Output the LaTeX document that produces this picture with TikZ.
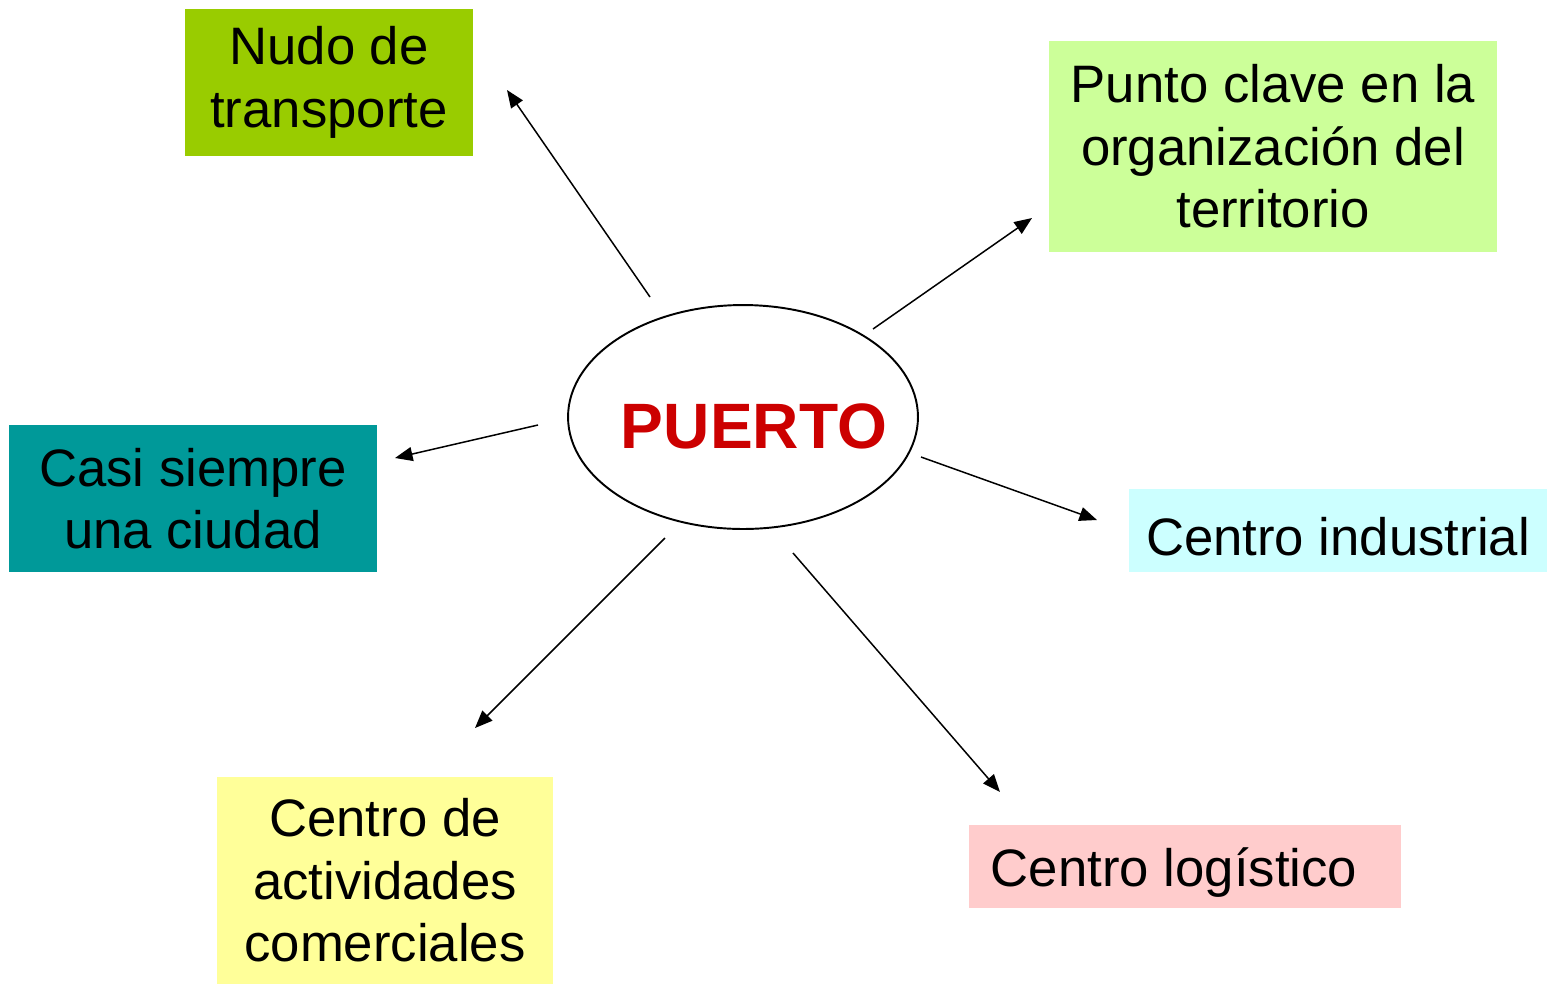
\documentclass[tikz,border=0pt]{standalone}
\usepackage{fontspec}
\setmainfont{Liberation Sans}
\usetikzlibrary{arrows.meta,shapes.geometric}
\definecolor{nudocol}{HTML}{99CC00}
\definecolor{puntocol}{HTML}{CCFF99}
\definecolor{casicol}{HTML}{009999}
\definecolor{indcol}{HTML}{CCFFFF}
\definecolor{comcol}{HTML}{FFFF99}
\definecolor{logcol}{HTML}{FFCCCC}
\definecolor{puertocol}{HTML}{CC0000}
\tikzset{
  box/.style={rectangle, inner sep=0pt, align=center, font=\fontsize{30}{35.5}\selectfont,
    execute at begin node={\rule{0pt}{0.95em}}},
  link/.style={-{Triangle[length=10pt,width=8pt]}, line width=0.85pt}
}
\begin{document}
\begin{tikzpicture}[x=0.02cm, y=-0.02cm]
      \useasboundingbox (0,0) rectangle (1548,985);
      \draw
        (329,82.5) node[box, fill=nudocol, minimum width=5.76cm, minimum height=2.94cm] (nudo){Nudo de\\transporte}
        (1273,146.5) node[box, fill=puntocol, minimum width=8.96cm, minimum height=4.22cm] (punto){Punto clave en la\\organizaci\'on del\\territorio}
        (193,498.5) node[box, fill=casicol, minimum width=7.36cm, minimum height=2.94cm] (casi){Casi siempre\\una ciudad}
        (1338,530.5) node[box, fill=indcol, minimum width=8.36cm, minimum height=1.66cm] (industrial){Centro industrial}
        (385,880.5) node[box, fill=comcol, minimum width=6.72cm, minimum height=4.14cm] (comercial){Centro de\\actividades\\comerciales}
        (1185,866.5) node[box, fill=logcol, minimum width=8.64cm, minimum height=1.66cm] (logistico){Centro log\'istico\hspace*{0.44cm}}
        (743,417) node[ellipse, draw, line width=1.1pt, inner sep=0pt, minimum width=7cm, minimum height=4.48cm,
          text=puertocol, font=\fontsize{36.5}{40}\selectfont\bfseries] (puerto){\raisebox{-0.62cm}[0pt][0pt]{\makebox[0pt]{\hspace*{0.44cm}PUERTO}}};
      \coordinate (a1) at (650,297);  \coordinate (b1) at (507,90);
      \coordinate (a2) at (873,329);  \coordinate (b2) at (1032,218);
      \coordinate (a3) at (538,425);  \coordinate (b3) at (395,458);
      \coordinate (a4) at (921,457);  \coordinate (b4) at (1097,520);
      \coordinate (a5) at (665,538);  \coordinate (b5) at (475,728);
      \coordinate (a6) at (793,553);  \coordinate (b6) at (1000,792);
      \begin{scope}[link]
        \draw (a1) to (b1);
        \draw (a2) to (b2);
        \draw (a3) to (b3);
        \draw (a4) to (b4);
        \draw (a5) to (b5);
        \draw (a6) to (b6);
      \end{scope}
    \end{tikzpicture}
\end{document}
